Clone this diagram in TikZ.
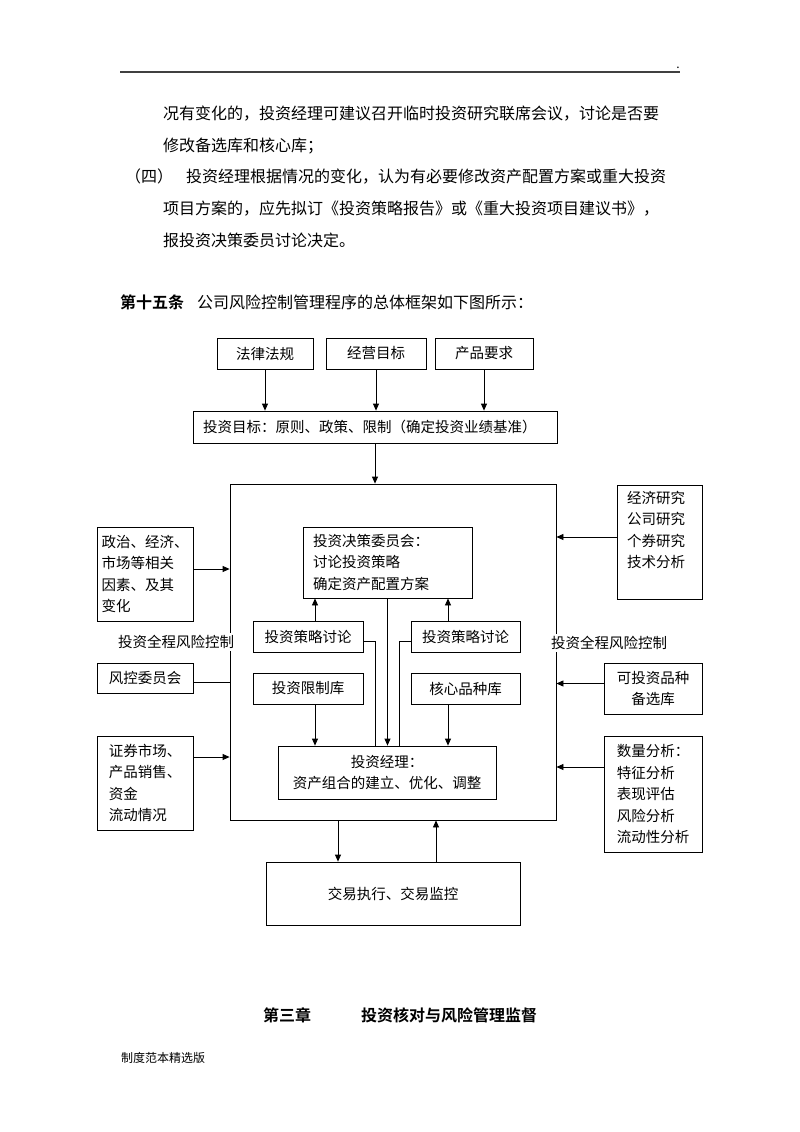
\documentclass[tikz,border=0pt]{standalone}
\usepackage{fontspec}
\setmainfont{Noto Sans CJK SC}[BoldFont={* Bold}]
\usetikzlibrary{arrows.meta}
\newcommand\dfont{\fontsize{14.5}{21.5}\selectfont}
\newcommand\bfont{\fontsize{16}{19}\selectfont}
\newcommand\sfont{\fontsize{12}{14}\selectfont}
\begin{document}
\begin{tikzpicture}[x=1pt,y=-1pt,
  box/.style={draw, line width=0.8pt, inner sep=0pt, font=\dfont, align=center},
  lbox/.style={box, align=left},
  dtext/.style={inner sep=0pt, font=\dfont, align=left},
  arr/.style={line width=0.8pt, -{Triangle[length=7pt,width=6pt]}},
  ln/.style={line width=0.8pt},
  body/.style={anchor=base west, inner sep=0pt, font=\bfont},
  side/.style={font=\dfont, fill=white, inner xsep=1pt, inner ysep=2pt}]
\useasboundingbox[fill=white] (0,0) rectangle (800,1132);

% header
\draw[line width=1.2pt, black!75] (120,72) -- (680,72);
\node[inner sep=0pt, font=\sfont, anchor=base] (dot) at (678,68) {.};

% body text
\node[body] (t1) at (163,119) {况有变化的，投资经理可建议召开临时投资研究联席会议，讨论是否要};
\node[body] (t2) at (163,151) {修改备选库和核心库；};
\node[body] (t3a) at (125,182) {（四）};
\node[body] (t3) at (186,182) {投资经理根据情况的变化，认为有必要修改资产配置方案或重大投资};
\node[body] (t4) at (163,214) {项目方案的，应先拟订《投资策略报告》或《重大投资项目建议书》，};
\node[body] (t5) at (163,246) {报投资决策委员讨论决定。};
\node[body, font=\bfont\bfseries] (h15) at (120,308) {第十五条};
\node[body] (h15b) at (197,308) {公司风险控制管理程序的总体框架如下图所示：};

% top boxes
\node[box, minimum width=96, minimum height=31] (law) at (265,353.5) {法律法规};
\node[box, minimum width=100, minimum height=31] (biz) at (376,353.5) {经营目标};
\node[box, minimum width=98, minimum height=31] (prod) at (484,353.5) {产品要求};
\node[lbox, minimum width=364, minimum height=32, text width=344, inner xsep=10pt] (goal) at (375,427) {投资目标：原则、政策、限制（确定投资业绩基准）};
\draw[arr] (law.south) -- (law.south |- goal.north);
\draw[arr] (biz.south) -- (biz.south |- goal.north);
\draw[arr] (prod.south) -- (prod.south |- goal.north);

% big box
\node[draw, line width=0.8pt, minimum width=326, minimum height=336, inner sep=0pt] (big) at (393,652) {};
\draw[arr] (goal.south) -- (goal.south |- big.north);

% left side
\node[lbox, minimum width=96, minimum height=94] (pol) at (145,574) {政治、经济、\\市场等相关\\因素、及其\\变化};
\draw[arr] ([yshift=5pt]pol.east) -- ([yshift=5pt]pol.east -| big.west);
\node[side] (labL) at (176,642) {投资全程风险控制};
\node[box, minimum width=96, minimum height=30] (risk) at (145,678) {风控委员会};
\draw[ln] ([yshift=-4pt]risk.east) -- ([yshift=-4pt]risk.east -| big.west);
\node[lbox, minimum width=96, minimum height=94] (sec) at (145,783) {证券市场、\\产品销售、\\资金\\流动情况};
\draw[arr] ([yshift=26pt]sec.east) -- ([yshift=26pt]sec.east -| big.west);

% right side
\node[box, minimum width=85, minimum height=114] (econ) at (659.5,542) {};
\node[dtext, anchor=north west] (econt) at (627,491) {经济研究\\公司研究\\个券研究\\技术分析};
\draw[arr] ([yshift=5pt]econ.west) -- ([yshift=5pt]econ.west -| big.east);
\node[side] (labR) at (609,643) {投资全程风险控制};
\node[box, minimum width=98, minimum height=51] (inv) at (653,688.5) {可投资品种\\备选库};
\draw[arr] ([yshift=5pt]inv.west) -- ([yshift=5pt]inv.west -| big.east);
\node[lbox, minimum width=98, minimum height=116] (quant) at (653,794) {数量分析：\\特征分析\\表现评估\\风险分析\\流动性分析};
\draw[arr] ([yshift=27pt]quant.west) -- ([yshift=27pt]quant.west -| big.east);

% inner
\node[lbox, minimum width=169, minimum height=71, text width=149, inner xsep=10pt] (dec) at (387.5,562.5) {投资决策委员会：\\讨论投资策略\\确定资产配置方案};
\node[box, minimum width=110, minimum height=31] (sL) at (308,636.5) {投资策略讨论};
\node[box, minimum width=109, minimum height=31] (sR) at (465.5,636.5) {投资策略讨论};
\node[box, minimum width=110, minimum height=31] (lim) at (308,688.5) {投资限制库};
\node[box, minimum width=109, minimum height=31] (core) at (465.5,688.5) {核心品种库};
\node[box, minimum width=218, minimum height=53] (mgr) at (387,772.5) {投资经理：\\资产组合的建立、优化、调整};

\draw[arr] ([xshift=7pt]sL.north) -- ([xshift=7pt]sL.north |- dec.south);
\draw[arr] ([xshift=-17.5pt]sR.north) -- ([xshift=-17.5pt]sR.north |- dec.south);
\draw[arr] (dec.south) -- (dec.south |- mgr.north);
\draw[ln] ([yshift=-5pt]sL.east) -| ([xshift=-12pt]mgr.north);
\draw[ln] ([yshift=-5pt]sR.west) -| ([xshift=12pt]mgr.north);
\draw[arr] ([xshift=7pt]lim.south) -- ([xshift=7pt]lim.south |- mgr.north);
\draw[arr] ([xshift=-17.5pt]core.south) -- ([xshift=-17.5pt]core.south |- mgr.north);

% bottom
\node[box, minimum width=254, minimum height=63] (trade) at (393,893.5) {\raisebox{-4pt}{交易执行、交易监控}};
\draw[arr] ([xshift=-55pt]big.south) -- ([xshift=-55pt]big.south |- trade.north);
\draw[arr] ([xshift=43pt]trade.north) -- ([xshift=43pt]trade.north |- big.south);

% chapter + footer
\node[body, font=\bfont\bfseries] (ch) at (263,1021) {第三章};
\node[body, font=\bfont\bfseries] (cht) at (361,1021) {投资核对与风险管理监督};
\node[body, font=\sfont] (foot) at (121,1062) {制度范本精选版};
\end{tikzpicture}
\end{document}
